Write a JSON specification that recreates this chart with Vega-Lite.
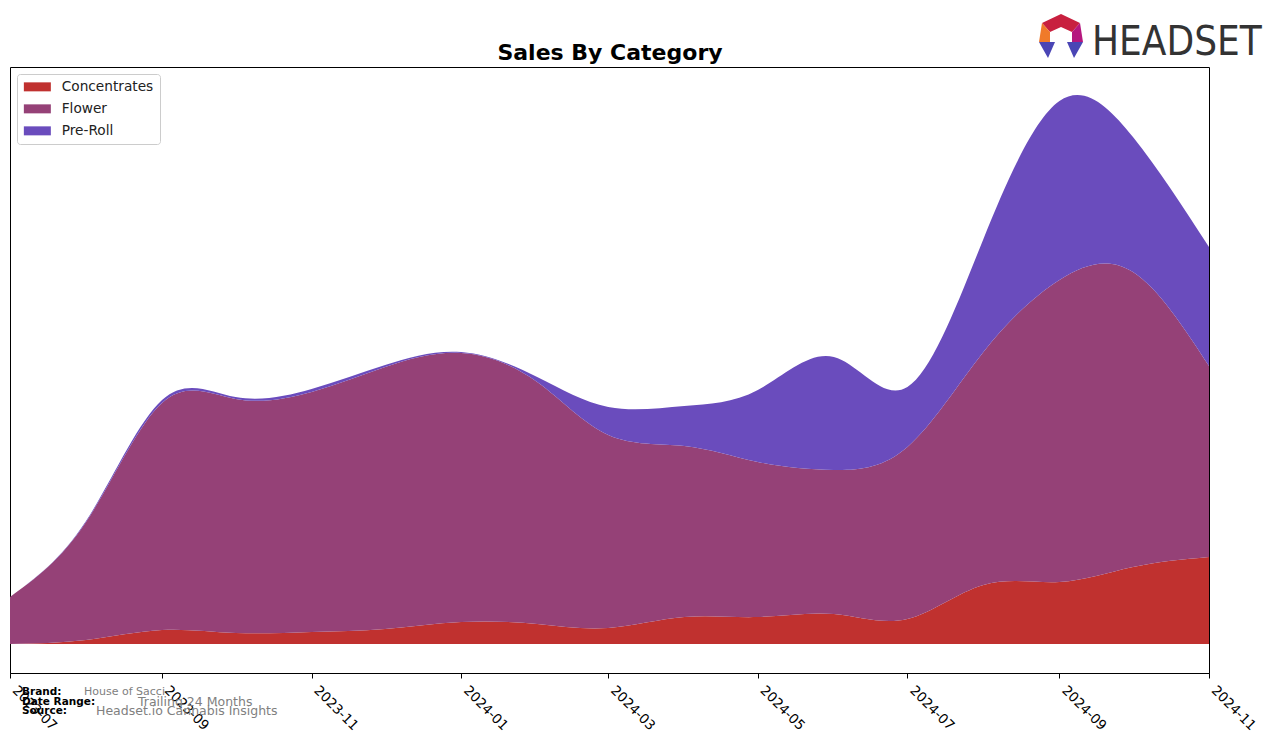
{
  "$schema": "https://vega.github.io/schema/vega-lite/v6.json",
  "autosize": "none",
  "width": 1199,
  "height": 606,
  "padding": {"left": 10, "top": 67, "right": 67, "bottom": 70},
  "background": "white",
  "config": {
    "font": "DejaVu Sans",
    "view": {"stroke": "black", "strokeWidth": 1}
  },
  "layer": [
    {
      "data": {
        "values": [
          {"month": "2023-07-01", "category": "Concentrates", "sales": 0},
          {"month": "2023-08-01", "category": "Concentrates", "sales": 4},
          {"month": "2023-09-01", "category": "Concentrates", "sales": 14},
          {"month": "2023-10-01", "category": "Concentrates", "sales": 11},
          {"month": "2023-11-01", "category": "Concentrates", "sales": 12},
          {"month": "2023-12-01", "category": "Concentrates", "sales": 15},
          {"month": "2024-01-01", "category": "Concentrates", "sales": 22},
          {"month": "2024-02-01", "category": "Concentrates", "sales": 20},
          {"month": "2024-03-01", "category": "Concentrates", "sales": 16},
          {"month": "2024-04-01", "category": "Concentrates", "sales": 27},
          {"month": "2024-05-01", "category": "Concentrates", "sales": 27},
          {"month": "2024-06-01", "category": "Concentrates", "sales": 30},
          {"month": "2024-07-01", "category": "Concentrates", "sales": 25},
          {"month": "2024-08-01", "category": "Concentrates", "sales": 59},
          {"month": "2024-09-01", "category": "Concentrates", "sales": 62},
          {"month": "2024-10-01", "category": "Concentrates", "sales": 77},
          {"month": "2024-11-01", "category": "Concentrates", "sales": 87},
          {"month": "2023-07-01", "category": "Flower", "sales": 47},
          {"month": "2023-08-01", "category": "Flower", "sales": 118},
          {"month": "2023-09-01", "category": "Flower", "sales": 227},
          {"month": "2023-10-01", "category": "Flower", "sales": 234},
          {"month": "2023-11-01", "category": "Flower", "sales": 240},
          {"month": "2023-12-01", "category": "Flower", "sales": 262},
          {"month": "2024-01-01", "category": "Flower", "sales": 269},
          {"month": "2024-02-01", "category": "Flower", "sales": 242},
          {"month": "2024-03-01", "category": "Flower", "sales": 193},
          {"month": "2024-04-01", "category": "Flower", "sales": 171},
          {"month": "2024-05-01", "category": "Flower", "sales": 155},
          {"month": "2024-06-01", "category": "Flower", "sales": 144},
          {"month": "2024-07-01", "category": "Flower", "sales": 172},
          {"month": "2024-08-01", "category": "Flower", "sales": 233},
          {"month": "2024-09-01", "category": "Flower", "sales": 302},
          {"month": "2024-10-01", "category": "Flower", "sales": 295},
          {"month": "2024-11-01", "category": "Flower", "sales": 191},
          {"month": "2023-07-01", "category": "Pre-Roll", "sales": 0},
          {"month": "2023-08-01", "category": "Pre-Roll", "sales": 1},
          {"month": "2023-09-01", "category": "Pre-Roll", "sales": 3},
          {"month": "2023-10-01", "category": "Pre-Roll", "sales": 2},
          {"month": "2023-11-01", "category": "Pre-Roll", "sales": 3},
          {"month": "2023-12-01", "category": "Pre-Roll", "sales": 2},
          {"month": "2024-01-01", "category": "Pre-Roll", "sales": 1},
          {"month": "2024-02-01", "category": "Pre-Roll", "sales": 5},
          {"month": "2024-03-01", "category": "Pre-Roll", "sales": 28},
          {"month": "2024-04-01", "category": "Pre-Roll", "sales": 40},
          {"month": "2024-05-01", "category": "Pre-Roll", "sales": 72},
          {"month": "2024-06-01", "category": "Pre-Roll", "sales": 113},
          {"month": "2024-07-01", "category": "Pre-Roll", "sales": 60},
          {"month": "2024-08-01", "category": "Pre-Roll", "sales": 113},
          {"month": "2024-09-01", "category": "Pre-Roll", "sales": 179},
          {"month": "2024-10-01", "category": "Pre-Roll", "sales": 135},
          {"month": "2024-11-01", "category": "Pre-Roll", "sales": 119}
        ]
      },
      "mark": {"type": "area", "interpolate": "natural"},
      "encoding": {
        "x": {
          "field": "month",
          "type": "temporal",
          "scale": {"type": "utc", "domain": ["2023-07-01", "2024-11-01"], "nice": false},
          "axis": {
            "title": null,
            "format": "%Y-%m",
            "values": [
              {"year": 2023, "month": 7, "date": 1, "utc": true},
              {"year": 2023, "month": 9, "date": 1, "utc": true},
              {"year": 2023, "month": 11, "date": 1, "utc": true},
              {"year": 2024, "month": 1, "date": 1, "utc": true},
              {"year": 2024, "month": 3, "date": 1, "utc": true},
              {"year": 2024, "month": 5, "date": 1, "utc": true},
              {"year": 2024, "month": 7, "date": 1, "utc": true},
              {"year": 2024, "month": 9, "date": 1, "utc": true},
              {"year": 2024, "month": 11, "date": 1, "utc": true}
            ],
            "labelAngle": 45,
            "labelAlign": "left",
            "labelBaseline": "top",
            "labelFont": "DejaVu Sans",
            "labelFontSize": 13.5,
            "labelColor": "black",
            "labelPadding": 5,
            "labelOffset": 9,
            "labelFlush": false,
            "labelOverlap": false,
            "domainColor": "black",
            "tickColor": "black",
            "tickSize": 5,
            "grid": false
          }
        },
        "y": {
          "field": "sales",
          "type": "quantitative",
          "stack": "zero",
          "scale": {"domain": [-29, 577], "nice": false, "zero": false},
          "axis": null
        },
        "color": {
          "field": "category",
          "type": "nominal",
          "scale": {
            "domain": ["Concentrates", "Flower", "Pre-Roll"],
            "range": ["#c0312f", "#954177", "#6a4cbd"]
          },
          "legend": {
            "title": null,
            "orient": "top-left",
            "offset": 7,
            "symbolType": "M-1,-0.75H3.5V0.75H-1Z",
            "symbolSize": 144,
            "symbolOpacity": 1,
            "symbolStrokeWidth": 0,
            "labelFont": "DejaVu Sans",
            "labelFontSize": 13.7,
            "labelColor": "#222222",
            "labelOffset": 25,
            "rowPadding": 7,
            "padding": 6,
            "strokeColor": "#cccccc",
            "fillColor": "white",
            "cornerRadius": 3
          }
        },
        "order": {"field": "category", "sort": "ascending"}
      }
    },
    {
      "data": {"values": [{}]},
      "mark": {"type": "text", "text": "Sales By Category", "font": "DejaVu Sans", "fontWeight": "bold", "fontSize": 22, "align": "center", "baseline": "alphabetic", "color": "black"},
      "encoding": {"x": {"value": 600}, "y": {"value": -7}}
    },
    {
      "data": {"values": [{}]},
      "mark": {"type": "text", "text": "Brand:", "font": "DejaVu Sans", "fontWeight": "bold", "fontSize": 10.5, "align": "left", "baseline": "middle", "color": "black"},
      "encoding": {"x": {"value": 12}, "y": {"value": 625}}
    },
    {
      "data": {"values": [{}]},
      "mark": {"type": "text", "text": "House of Sacci", "font": "DejaVu Sans", "fontSize": 11, "align": "left", "baseline": "middle", "color": "#808080"},
      "encoding": {"x": {"value": 74}, "y": {"value": 625}}
    },
    {
      "data": {"values": [{}]},
      "mark": {"type": "text", "text": "Date Range:", "font": "DejaVu Sans", "fontWeight": "bold", "fontSize": 10.5, "align": "left", "baseline": "middle", "color": "black"},
      "encoding": {"x": {"value": 12}, "y": {"value": 635}}
    },
    {
      "data": {"values": [{}]},
      "mark": {"type": "text", "text": "Trailing 24 Months", "font": "DejaVu Sans", "fontSize": 12.5, "align": "left", "baseline": "middle", "color": "#808080"},
      "encoding": {"x": {"value": 128}, "y": {"value": 635}}
    },
    {
      "data": {"values": [{}]},
      "mark": {"type": "text", "text": "Source:", "font": "DejaVu Sans", "fontWeight": "bold", "fontSize": 10.5, "align": "left", "baseline": "middle", "color": "black"},
      "encoding": {"x": {"value": 12}, "y": {"value": 644}}
    },
    {
      "data": {"values": [{}]},
      "mark": {"type": "text", "text": "Headset.io Cannabis Insights", "font": "DejaVu Sans", "fontSize": 12.5, "align": "left", "baseline": "middle", "color": "#808080"},
      "encoding": {"x": {"value": 86}, "y": {"value": 644}}
    },
    {
      "data": {"values": [{}]},
      "mark": {"type": "text", "text": "HEADSET", "font": "DejaVu Sans Condensed, DejaVu Sans", "fontSize": 40, "align": "left", "baseline": "alphabetic", "color": "#333333"},
      "encoding": {"x": {"value": 1082}, "y": {"value": -12}}
    },
    {
      "data": {"values": [{}]},
      "mark": {"type": "point", "filled": true, "opacity": 1, "size": 4, "strokeWidth": 0, "shape": "M-19,-13L0,-22L19,-13L11,-4L0,-9L-11,-4Z", "color": "#c8203f"},
      "encoding": {"x": {"value": 1051}, "y": {"value": -31}}
    },
    {
      "data": {"values": [{}]},
      "mark": {"type": "point", "filled": true, "opacity": 1, "size": 4, "strokeWidth": 0, "shape": "M-19,-13L-11,-4L-11,6L-22,6Z", "color": "#f07a2a"},
      "encoding": {"x": {"value": 1051}, "y": {"value": -31}}
    },
    {
      "data": {"values": [{}]},
      "mark": {"type": "point", "filled": true, "opacity": 1, "size": 4, "strokeWidth": 0, "shape": "M19,-13L11,-4L11,6L22,6Z", "color": "#b5177e"},
      "encoding": {"x": {"value": 1051}, "y": {"value": -31}}
    },
    {
      "data": {"values": [{}]},
      "mark": {"type": "point", "filled": true, "opacity": 1, "size": 4, "strokeWidth": 0, "shape": "M-22,6L-6,6L-13,22Z", "color": "#4a45b5"},
      "encoding": {"x": {"value": 1051}, "y": {"value": -31}}
    },
    {
      "data": {"values": [{}]},
      "mark": {"type": "point", "filled": true, "opacity": 1, "size": 4, "strokeWidth": 0, "shape": "M6,6L22,6L13,22Z", "color": "#4a45b5"},
      "encoding": {"x": {"value": 1051}, "y": {"value": -31}}
    }
  ]
}
